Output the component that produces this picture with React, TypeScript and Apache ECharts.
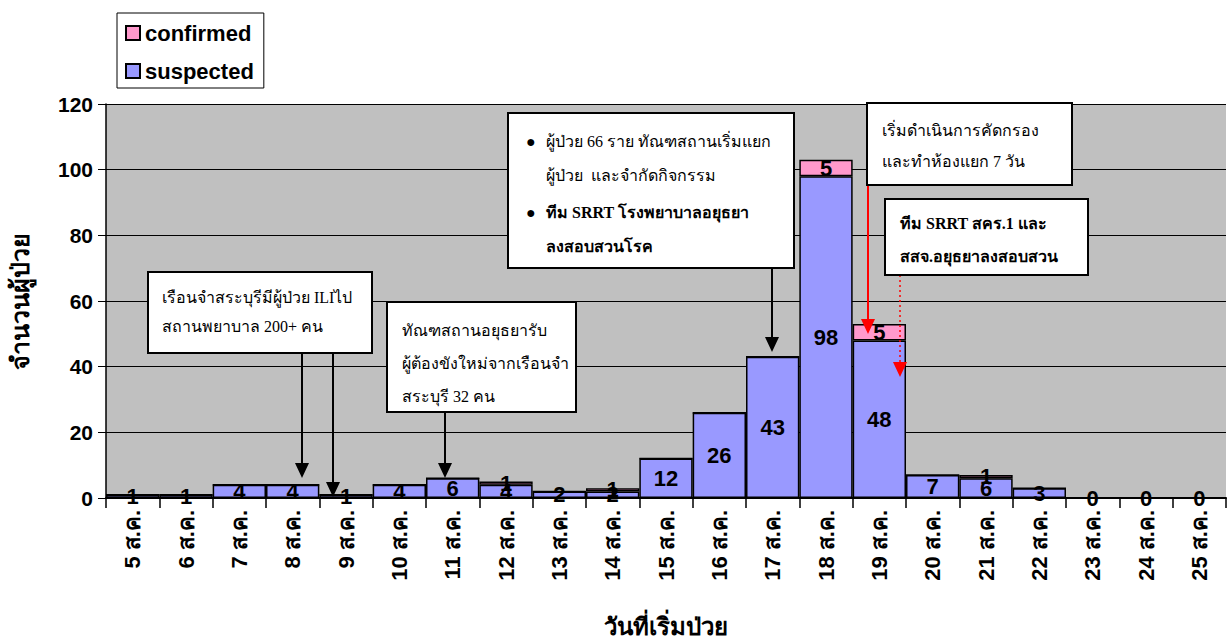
import React, { useEffect, useRef } from "react";
import * as echarts from "echarts";

const days = ["5", "6", "7", "8", "9", "10", "11", "12", "13", "14", "15", "16", "17", "18", "19", "20", "21", "22", "23", "24", "25"];
const categories = days.map((d) => d + " ส.ค.");
const suspected = [1, 1, 4, 4, 1, 4, 6, 4, 2, 2, 12, 26, 43, 98, 48, 7, 6, 3, 0, 0, 0];
const confirmed = [0, 0, 0, 0, 0, 0, 0, 1, 0, 1, 0, 0, 0, 5, 5, 0, 1, 0, 0, 0, 0];
const yTicks = [0, 20, 40, 60, 80, 100, 120];

const SERIF = "'Liberation Serif', 'Times New Roman', serif";
const SANS = "Arial, 'Liberation Sans', sans-serif";

function box(x: number, y: number, w: number, h: number) {
  return {
    type: "rect",
    shape: { x, y, width: w, height: h },
    style: { fill: "#fff", stroke: "#000", lineWidth: 2 },
    z: 100,
  };
}
function txt(x: number, y: number, text: string, size: number, bold = false) {
  return {
    type: "text",
    x,
    y,
    style: { text, fill: "#000", font: `${bold ? "bold " : ""}${size}px ${SERIF}`, textVerticalAlign: "middle" },
    z: 101,
  };
}
function arrow(x: number, y1: number, y2: number, color = "#000", dashed = false) {
  const head = 15;
  return [
    {
      type: "line",
      shape: { x1: x, y1, x2: x, y2: y2 - head + 2 },
      style: { stroke: color, lineWidth: dashed ? 1.5 : 2, lineDash: dashed ? [2, 3] : null },
      z: 99,
    },
    {
      type: "polygon",
      shape: { points: [[x - 7, y2 - head], [x + 7, y2 - head], [x, y2]] },
      style: { fill: color },
      z: 99,
    },
  ];
}

export default function App() {
  const ref = useRef<HTMLDivElement>(null);
  useEffect(() => {
    const chart = echarts.init(ref.current!, null, { renderer: "svg" });
    const labelBase = { show: true, color: "#000", fontWeight: "bold", fontSize: 22, fontFamily: SANS };
    chart.setOption({
      animation: false,
      backgroundColor: "#fff",
      legend: {
        data: ["confirmed", "suspected"],
        orient: "vertical",
        left: 117,
        top: 13,
        backgroundColor: "#fff",
        borderColor: "#000",
        borderWidth: 1,
        padding: [9, 10, 6, 8],
        itemGap: 16,
        itemWidth: 14,
        itemHeight: 14,
        icon: "rect",
        textStyle: { fontFamily: SANS, fontWeight: "bold", fontSize: 22, color: "#000" },
      },
      grid: {
        left: 106,
        right: 3,
        top: 104,
        bottom: 146,
        show: true,
        backgroundColor: "#C0C0C0",
        borderWidth: 0,
        outerBoundsMode: "none",
        containLabel: false,
      },
      xAxis: {
        type: "category",
        data: categories,
        name: "วันที่เริ่มป่วย",
        nameLocation: "middle",
        nameGap: 116,
        nameTextStyle: { fontFamily: SANS, fontWeight: "bold", fontSize: 24, color: "#000" },
        axisLine: { lineStyle: { color: "#000", width: 2 } },
        axisTick: { show: true, alignWithLabel: false, length: 10, lineStyle: { color: "#000", width: 1.5 } },
        axisLabel: {
          rotate: 90,
          margin: 12,
          color: "#000",
          fontFamily: SANS,
          fontWeight: "bold",
          fontSize: 22,
          interval: 0,
        },
      },
      yAxis: {
        type: "value",
        min: 0,
        max: 120,
        interval: 20,
        name: "จำนวนผู้ป่วย",
        nameLocation: "middle",
        nameRotate: 90,
        nameGap: 74,
        nameTextStyle: { fontFamily: SANS, fontWeight: "bold", fontSize: 25, color: "#000" },
        axisLine: { show: true, lineStyle: { color: "#000", width: 1.5 } },
        axisTick: { show: true, length: 8, lineStyle: { color: "#000" } },
        axisLabel: {
          color: "#000",
          fontFamily: SANS,
          fontWeight: "bold",
          fontSize: 21,
          margin: 13,
          formatter: (v: number) => (yTicks.includes(v) ? String(v) : ""),
        },
        splitLine: { show: true, lineStyle: { color: "#000", width: 1 } },
      },
      series: [
        {
          name: "suspected",
          type: "bar",
          stack: "a",
          data: suspected,
          barCategoryGap: "0%",
          itemStyle: { color: "#9999FF", borderColor: "#000", borderWidth: 1.5 },
          label: { ...labelBase, position: "inside" },
        },
        {
          name: "confirmed",
          type: "bar",
          stack: "a",
          data: confirmed,
          barCategoryGap: "0%",
          itemStyle: { color: "#FF99CC", borderColor: "#000", borderWidth: 1.5 },
          label: {
            ...labelBase,
            position: "inside",
            formatter: (p: any) => (p.value > 0 ? String(p.value) : ""),
          },
        },
      ],
      graphic: [
        box(148, 272, 224, 81),
        txt(162, 297, "เรือนจำสระบุรีมีผู้ป่วย ILIไป", 16),
        txt(162, 326, "สถานพยาบาล 200+ คน", 16),
        ...arrow(302, 353, 478),
        ...arrow(333, 353, 497),

        box(387, 302, 189, 110),
        txt(402, 330, "ทัณฑสถานอยุธยารับ", 16),
        txt(402, 363, "ผู้ต้องขังใหม่จากเรือนจำ", 16),
        txt(402, 396, "สระบุรี 32 คน", 16),
        ...arrow(445, 412, 478),

        box(508, 113, 286, 155),
        txt(526, 141, "●", 16),
        txt(546, 141, "ผู้ป่วย 66 ราย ทัณฑสถานเริ่มแยก", 16),
        txt(546, 175, "ผู้ป่วย  และจำกัดกิจกรรม", 16),
        txt(526, 212, "●", 16),
        txt(546, 212, "ทีม SRRT โรงพยาบาลอยุธยา", 16, true),
        txt(546, 246, "ลงสอบสวนโรค", 16, true),
        ...arrow(772, 268, 352),

        box(867, 103, 205, 82),
        txt(882, 130, "เริ่มดำเนินการคัดกรอง", 16),
        txt(882, 161, "และทำห้องแยก 7 วัน", 16),
        ...arrow(868, 185, 334, "#FF0000"),

        box(885, 199, 203, 76),
        txt(900, 223, "ทีม SRRT สคร.1 และ", 16, true),
        txt(900, 256, "สสจ.อยุธยาลงสอบสวน", 16, true),
        ...arrow(900, 275, 377, "#FF0000", true),
      ],
    });
    return () => chart.dispose();
  }, []);
  return <div ref={ref} style={{ position: "absolute", left: 0, top: 0, width: 1229, height: 644 }} />;
}
